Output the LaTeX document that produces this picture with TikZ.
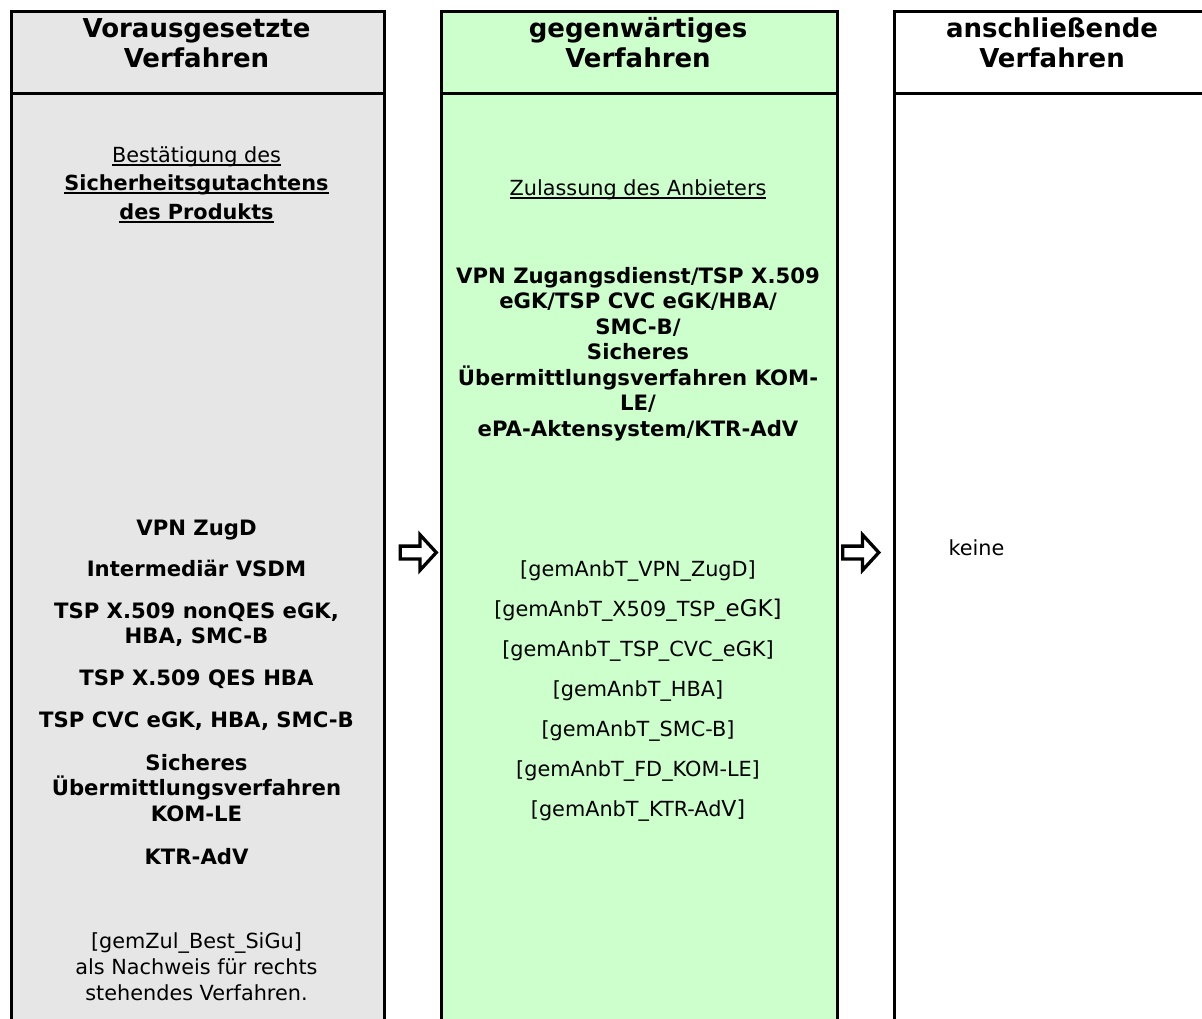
\documentclass[tikz,border=0pt]{standalone}
\usepackage{fontspec}
\setmainfont{DejaVu Sans}
\usetikzlibrary{shapes.arrows}
\definecolor{prevgrey}{RGB}{230,230,230}
\definecolor{curgreen}{RGB}{204,255,204}
\newcommand{\undertext}[2][1.6pt]{\leavevmode\setbox0\hbox{#2}\rlap{\rule[-3.8pt]{\wd0}{#1}}\box0}

\begin{document}
\begin{tikzpicture}[x=1pt, y=-1pt,
    colhead/.style={rectangle, draw, line width=2.5pt, anchor=north west, minimum height=82pt, inner sep=0pt},
    colbody/.style={rectangle, draw, line width=2.5pt, anchor=north west, minimum height=960pt, inner sep=0pt},
    headtext/.style={anchor=base, align=center, font=\fontsize{26}{29.5}\selectfont\bfseries},
    itemtext/.style={anchor=base, align=center, font=\fontsize{21.2}{25.5}\selectfont\bfseries},
    reftext/.style={anchor=base, align=center, font=\fontsize{20.8}{26}\selectfont},
    passarrow/.style={single arrow, draw, line width=3.3pt, fill=white, anchor=tip, minimum height=36pt, minimum width=32pt, single arrow head extend=11.25pt, single arrow tip angle=95, inner xsep=0pt, inner ysep=4.75pt}]
    \useasboundingbox (0,0) rectangle (1202,1018);
    \clip (0,0) rectangle (1202,1018);

    \node at (10,10) [colhead, fill=prevgrey, minimum width=373pt] (prevhead) {};
    \node at (10,92) [colbody, fill=prevgrey, minimum width=373pt] (prevbody) {};
    \node at (440,10) [colhead, fill=curgreen, minimum width=396pt] (curhead) {};
    \node at (440,92) [colbody, fill=curgreen, minimum width=396pt] (curbody) {};
    \node at (893,10) [colhead, minimum width=318pt] (nexthead) {};
    \node at (893,92) [colbody, minimum width=318pt] (nextbody) {};

    % the base anchor of a node of several lines lies on its last line
    \node at (196.5,67) [headtext] (prevtitle) {Vorausgesetzte\\Verfahren};
    \node at (638,67) [headtext] (curtitle) {gegenwärtiges\\Verfahren};
    \node at (1052,67) [headtext] (nexttitle) {anschließende\\Verfahren};

    \node at (196.5,219) [reftext, font=\fontsize{20.8}{28.5}\selectfont] (prevtopic) {\undertext{Bestätigung des}\\\undertext[2.2pt]{\bfseries Sicherheitsgutachtens}\\\undertext[2.2pt]{\bfseries des Produkts}};
    \node at (196.5,535) [itemtext] (vpn) {VPN ZugD};
    \node at (196.5,576) [itemtext] (vsdm) {Intermediär VSDM};
    \node at (196.5,643.5) [itemtext] (nonqes) {TSP X.509 nonQES eGK,\\HBA, SMC-B};
    \node at (196.5,685) [itemtext] (qes) {TSP X.509 QES HBA};
    \node at (196.5,727) [itemtext] (cvc) {TSP CVC eGK, HBA, SMC-B};
    \node at (196.5,821) [itemtext] (komle) {Sicheres\\Übermittlungsverfahren\\KOM-LE};
    \node at (196.5,864) [itemtext] (ktr) {KTR-AdV};
    \node at (196.5,1000) [reftext] (sigu) {[gemZul\_Best\_SiGu]\\als Nachweis für rechts\\stehendes Verfahren.};

    \node at (638,195) [reftext] (curtopic) {\undertext{Zulassung des Anbieters}};
    \node at (638,436) [itemtext] (scope) {VPN Zugangsdienst/TSP X.509\\eGK/TSP CVC eGK/HBA/\\SMC-B/\\Sicheres\\Übermittlungsverfahren KOM-\\LE/\\ePA-Aktensystem/KTR-AdV};
    \node at (638,576) [reftext] (tvpn) {[gemAnbT\_VPN\_ZugD]};
    \node at (638,616) [reftext] (tx509) {[gemAnbT\_X509\_TSP\_{\fontsize{23}{26}\selectfont eGK]}};
    \node at (638,656) [reftext] (tcvc) {[gemAnbT\_TSP\_CVC\_eGK]};
    \node at (638,696) [reftext] (thba) {[gemAnbT\_HBA]};
    \node at (638,736) [reftext] (tsmcb) {[gemAnbT\_SMC-B]};
    \node at (638,776) [reftext] (tkomle) {[gemAnbT\_FD\_KOM-LE]};
    \node at (638,816) [reftext] (tktr) {[gemAnbT\_KTR-Ad{\fontsize{22}{26}\selectfont V]}};

    \node at (945,555) [reftext, anchor=base west] (none) {keine};

    \node at (438.5,552.5) [passarrow] (intoarrow) {};
    \node at (881,552.5) [passarrow] (outofarrow) {};
\end{tikzpicture}
\end{document}
